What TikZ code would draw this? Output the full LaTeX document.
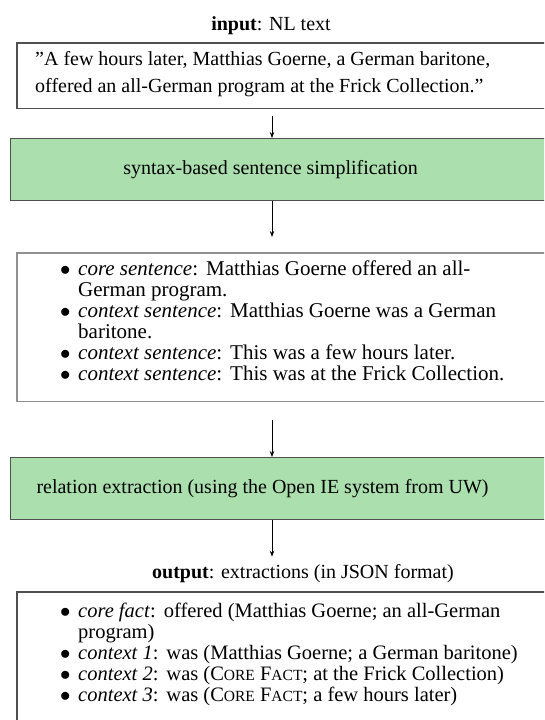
\documentclass[tikz,border=0pt]{standalone}
\usepackage{fontspec}
\setmainfont{Liberation Serif}
\usetikzlibrary{arrows.meta,calc}
\definecolor{boxgreen}{RGB}{171,223,174}
\definecolor{darkedge}{RGB}{80,80,80}
\definecolor{lightedge}{RGB}{145,145,145}
\newcommand{\fakesc}[2]{#1{\fontsize{15.5}{15.5}\selectfont #2}}
\newcommand{\itm}{\makebox[18pt][l]{$\bullet$}}
\newcommand{\cont}{\hspace*{18pt}}
\newcommand{\colsp}{:\hspace{8pt}}
\begin{document}
\begin{tikzpicture}[x=1pt,y=1pt,
  every node/.style={font=\fontsize{20}{21}\selectfont},
  textbox/.style={anchor=north west, inner ysep=0pt, inner xsep=0pt},
  boxedge/.style={draw=darkedge, line width=1.1pt},
  greenbox/.style={draw=darkedge, line width=1.1pt, fill=boxgreen, anchor=north west, inner sep=0pt, minimum height=62pt},
  arr/.style={-{Stealth[length=6pt,width=4.5pt]}, line width=0.9pt},
  lab/.style={anchor=base, inner sep=0pt}
]
\useasboundingbox (0,0) rectangle (544,-720);
\clip (0,0) rectangle (544,-720);
\coordinate (cx) at (272,0);
\node[lab] (inlab) at (271,-30) {\textbf{input}: NL text};
\node[textbox] (in) at (17,-43)
  {\hspace*{18pt}\parbox[b]{600pt}{\fontsize{20}{27}\selectfont\rule{0pt}{22pt}”A few hours later, Matthias Goerne, a German baritone,\\offered an all-German program at the Frick Collection.”\rule[-16pt]{0pt}{16pt}}};
\draw[boxedge] (in.north east) -- (in.north west) -- (in.south west) -- (in.south east);
\node[greenbox] (g1) at (10,-138) {\makebox[620pt][l]{\makebox[520pt][c]{syntax-based sentence simplification}}};
\node[textbox] (mid) at (17,-253)
  {\hspace*{43pt}\parbox[b]{600pt}{\fontsize{21}{21}\selectfont\rule{0pt}{22pt}\itm\textit{core sentence}\colsp Matthias Goerne offered an all-\\
   \cont German program.\\
   \itm\textit{context sentence}\colsp Matthias Goerne was a German\\
   \cont baritone.\\
   \itm\textit{context sentence}\colsp This was a few hours later.\\
   \itm\textit{context sentence}\colsp This was at the Frick Collection.\rule[-21pt]{0pt}{21pt}}};
\draw[boxedge, draw=lightedge] (mid.north east) -- (mid.north west) -- (mid.south west) -- (mid.south east);
\node[greenbox] (g2) at (10,-457) {\makebox[620pt][l]{\makebox[504pt][c]{relation extraction (using the Open IE system from UW)}}};
\node[lab] (outlab) at (303,-578) {\textbf{output}: extractions (in JSON format)};
\node[textbox] (out) at (17,-592)
  {\hspace*{43pt}\parbox[b]{600pt}{\fontsize{20.5}{21}\selectfont\rule{0pt}{25pt}\itm\textit{core fact}\colsp offered (Matthias Goerne; an all-German\\
   \cont program)\\
   \itm\textit{context 1}\colsp was (Matthias Goerne; a German baritone)\\
   \itm\textit{context 2}\colsp was (\fakesc{C}{ORE} \fakesc{F}{ACT}; at the Frick Collection)\\
   \itm\textit{context 3}\colsp was (\fakesc{C}{ORE} \fakesc{F}{ACT}; a few hours later)\rule[-40pt]{0pt}{40pt}}};
\draw[boxedge] (out.north east) -- (out.north west) -- (out.south west);
\draw[arr, shorten <=8pt] (in.south -| cx) -- (g1.north -| cx);
\draw[arr, shorten >=16pt] (g1.south -| cx) -- (mid.north -| cx);
\draw[arr, shorten <=19pt] (mid.south -| cx) -- (g2.north -| cx);
\draw[arr, shorten >=7pt] (g2.south -| cx) -- (outlab.north -| cx);
\end{tikzpicture}
\end{document}
